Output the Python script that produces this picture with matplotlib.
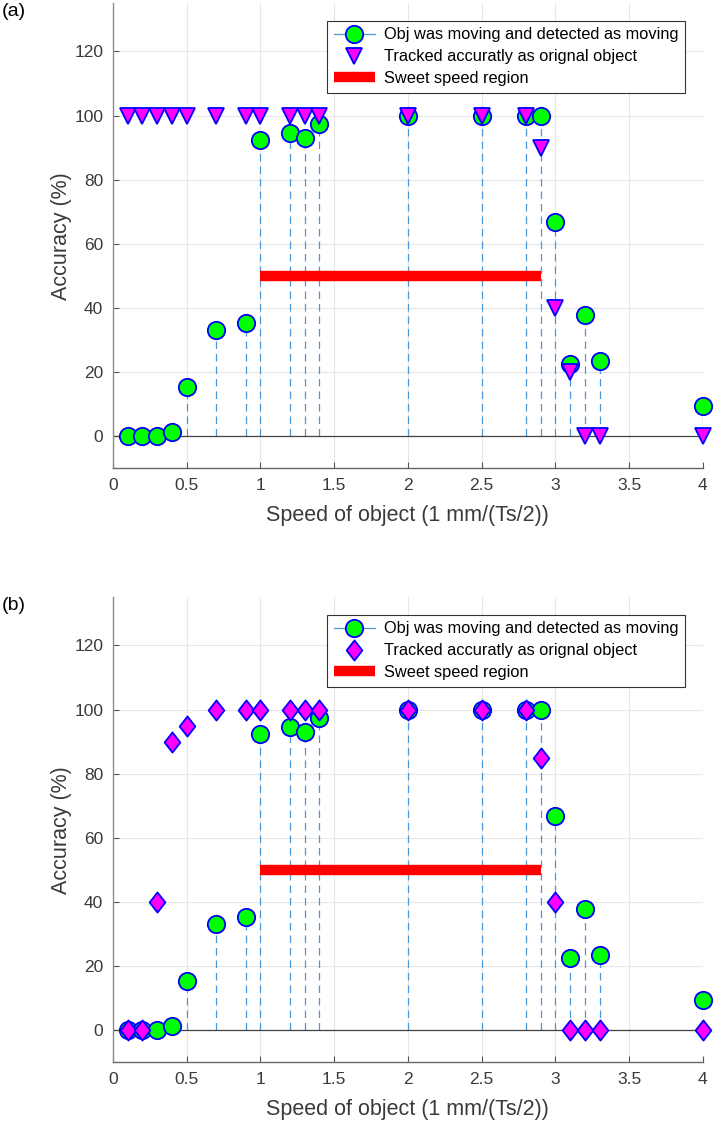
import numpy as np
import matplotlib
matplotlib.use('Agg')
import matplotlib.pyplot as plt
from matplotlib.lines import Line2D
from matplotlib.path import Path

plt.rcParams.update({
    'font.family': ['Liberation Sans', 'DejaVu Sans'],
    'font.size': 11,
})

speed = [0.1, 0.2, 0.3, 0.4, 0.5, 0.7, 0.9, 1.0, 1.2, 1.3, 1.4,
         2.0, 2.5, 2.8, 2.9, 3.0, 3.1, 3.2, 3.3, 4.0]
detected = [0, 0, 0, 1.3, 15.2, 33.0, 35.4, 92.5, 94.7, 92.9, 97.2,
            100, 100, 100, 100, 66.7, 22.4, 37.6, 23.4, 9.2]
tracked_a = [100, 100, 100, 100, 100, 100, 100, 100, 100, 100, 100,
             100, 100, 100, 90, 40, 20, 0, 0, 0]
tracked_b = [0, 0, 40, 90, 95, 100, 100, 100, 100, 100, 100,
             100, 100, 100, 85, 40, 0, 0, 0, 0]
sweet_x = [1.0, 2.9]
sweet_y = [50, 50]

labels = ['Obj was moving and detected as moving',
          'Tracked accuratly as orignal object',
          'Sweet speed region']

stem_col = '#4a97d9'
txt_col = '#3a3a3a'

# MATLAB-like diamond: taller than wide
diamond = Path([(0, 1), (0.78, 0), (0, -1), (-0.78, 0), (0, 1)],
               [Path.MOVETO, Path.LINETO, Path.LINETO, Path.LINETO, Path.CLOSEPOLY])


def panel(ax, tracked, mk, mk_size, tag):
    # stems for detection accuracy
    ax.vlines(speed, 0, detected, colors=stem_col, linestyles=(0, (6, 4)), lw=0.9, zorder=2)
    ax.axhline(0, color='#444444', lw=0.9, zorder=2)
    ax.plot(speed, detected, 'o', ms=12.5, mfc='#00ff00', mec='#0000ff', mew=1.3,
            zorder=4, clip_on=False)
    ax.plot(speed, tracked, ls='none', marker=mk, ms=mk_size, mfc='#ff00ff', mec='#0000ff',
            mew=1.3, zorder=5, clip_on=False)
    ax.plot(sweet_x, sweet_y, '-', color='#ff0000', lw=7.5, solid_capstyle='butt', zorder=3)

    ax.set_xlim(0, 4)
    ax.set_ylim(-10, 135)
    ax.set_xticks(np.arange(0, 4.01, 0.5))
    ax.set_xticklabels(['0', '0.5', '1', '1.5', '2', '2.5', '3', '3.5', '4'])
    ax.set_yticks(np.arange(0, 121, 20))
    ax.grid(True, color='#e6e6e6', lw=0.8)
    ax.set_axisbelow(True)
    for s in ['top', 'right']:
        ax.spines[s].set_visible(False)
    ax.spines['left'].set_color('#8c8c8c')
    ax.spines['bottom'].set_color('#666666')
    for s in ['left', 'bottom']:
        ax.spines[s].set_linewidth(1.0)
    ax.tick_params(direction='in', length=4, colors='#555555', labelcolor=txt_col,
                   labelsize=12.5, pad=7)
    ax.set_xlabel('Speed of object (1 mm/(Ts/2))', fontsize=15.5, color=txt_col, labelpad=9)
    ax.set_ylabel('Accuracy (%)', fontsize=15.5, color=txt_col, labelpad=1.5)

    handles = [
        Line2D([], [], color=stem_col, ls='-', lw=0.9, marker='o', ms=12.5,
               mfc='#00ff00', mec='#0000ff', mew=1.3),
        Line2D([], [], ls='none', marker=mk, ms=mk_size, mfc='#ff00ff',
               mec='#0000ff', mew=1.3),
        Line2D([], [], color='#ff0000', lw=7.5, solid_capstyle='butt'),
    ]
    leg = ax.legend(handles, labels, loc='upper right', bbox_to_anchor=(0.97, 0.963),
                    fontsize=11.8, fancybox=False, framealpha=1, edgecolor='#333333',
                    handlelength=2.5, handletextpad=0.55, borderpad=0.42, labelspacing=0.42,
                    borderaxespad=0)
    leg.get_frame().set_linewidth(0.8)
    ax.figure.text(0.003, ax.get_position().y1 + 0.0, tag, fontsize=14, color='black',
                   va='top', ha='left')


fig = plt.figure(figsize=(7.15, 11.25), dpi=100)
ax1 = fig.add_axes([0.158, 0.584, 0.825, 0.413])
ax2 = fig.add_axes([0.158, 0.056, 0.825, 0.413])

panel(ax1, tracked_a, 'v', 12, '(a)')
panel(ax2, tracked_b, diamond, 14.5, '(b)')

fig.savefig('out.png', dpi=100)
